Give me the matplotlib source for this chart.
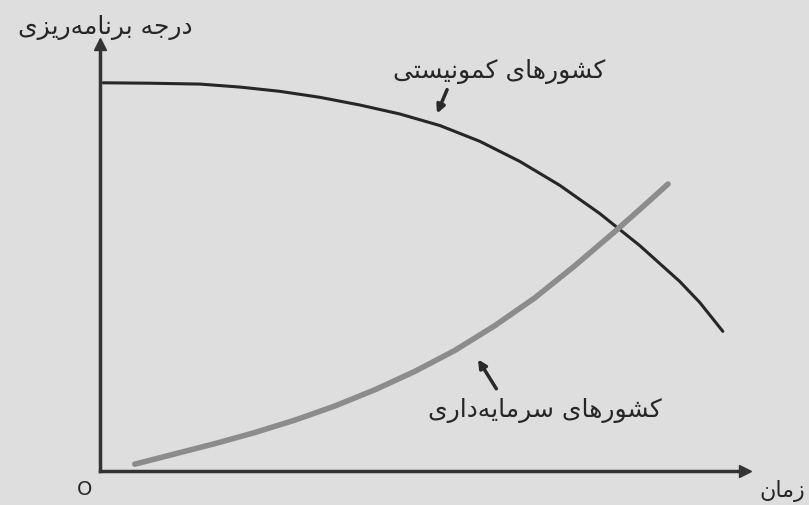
import matplotlib.pyplot as plt

# Persian letters -> presentation forms (isolated, final, initial, medial)
FORMS = {
    'ا': ('\uFE8D', '\uFE8E'),
    'د': ('\uFEA9', '\uFEAA'),
    'ر': ('\uFEAD', '\uFEAE'),
    'ز': ('\uFEAF', '\uFEB0'),
    'و': ('\uFEED', '\uFEEE'),
    'ب': ('\uFE8F', '\uFE90', '\uFE91', '\uFE92'),
    'ت': ('\uFE95', '\uFE96', '\uFE97', '\uFE98'),
    'ج': ('\uFE9D', '\uFE9E', '\uFE9F', '\uFEA0'),
    'س': ('\uFEB1', '\uFEB2', '\uFEB3', '\uFEB4'),
    'ش': ('\uFEB5', '\uFEB6', '\uFEB7', '\uFEB8'),
    'م': ('\uFEE1', '\uFEE2', '\uFEE3', '\uFEE4'),
    'ن': ('\uFEE5', '\uFEE6', '\uFEE7', '\uFEE8'),
    'ه': ('\uFEE9', '\uFEEA', '\uFEEB', '\uFEEC'),
    'ک': ('\uFB8E', '\uFB8F', '\uFB90', '\uFB91'),
    'ی': ('\uFBFC', '\uFBFD', '\uFBFE', '\uFBFF'),
}


def farsi(s):
    # shape letters and put them in visual (right-to-left) order
    out = []
    for i, ch in enumerate(s):
        f = FORMS.get(ch)
        if f is None:
            if ch != '\u200c':
                out.append(ch)
            continue
        prev = s[i - 1] if i > 0 else ''
        nxt = s[i + 1] if i + 1 < len(s) else ''
        join_prev = len(FORMS.get(prev, ())) == 4
        join_next = len(f) == 4 and nxt in FORMS
        if join_prev and join_next:
            out.append(f[3])
        elif join_prev:
            out.append(f[1])
        elif join_next:
            out.append(f[2])
        else:
            out.append(f[0])
    return ''.join(reversed(out))


# 1. data (time vs degree of planning, arbitrary units)
y_title = 'درجه برنامه\u200cریزی'
x_title = 'زمان'
label_communist = 'کشورهای کمونیستی'
label_capitalist = 'کشورهای سرمایه\u200cداری'

t_communist = [0.05, 0.78, 1.55, 2.17, 2.79, 3.41, 4.03, 4.65, 5.27, 5.89, 6.51,
               7.13, 7.75, 8.37, 8.99, 9.3, 9.66]
communist = [9.09, 9.08, 9.06, 8.99, 8.89, 8.75, 8.57, 8.36, 8.09, 7.72, 7.25,
             6.69, 6.03, 5.28, 4.44, 3.95, 3.27]

t_capitalist = [0.54, 1.16, 1.78, 2.4, 3.02, 3.64, 4.26, 4.88, 5.5, 6.12, 6.74,
                7.36, 7.98, 8.45, 8.81]
capitalist = [0.16, 0.4, 0.64, 0.9, 1.19, 1.52, 1.9, 2.33, 2.82, 3.4, 4.05,
              4.8, 5.6, 6.23, 6.72]

plt.rcParams['font.family'] = ['DejaVu Sans']

bg = '#dedede'
fig = plt.figure(figsize=(8.09, 5.06), dpi=100, facecolor=bg)
ax = fig.add_axes([0.1236, 0.0672, 0.797, 0.844])
ax.set_facecolor(bg)
ax.set_xlim(0, 10)
ax.set_ylim(0, 10)

# 2. curves
ax.plot(t_communist, communist, color='#262626', lw=2.2,
        solid_capstyle='round', solid_joinstyle='round')
ax.plot(t_capitalist, capitalist, color='#8c8c8c', lw=4,
        solid_capstyle='round', solid_joinstyle='round')

# 3. axes as arrows
for s in ['top', 'right']:
    ax.spines[s].set_visible(False)
for s in ['left', 'bottom']:
    ax.spines[s].set_color('#333333')
    ax.spines[s].set_linewidth(2.5)
ax.set_xticks([])
ax.set_yticks([])
ax.plot(1, 0, '>', color='#333333', ms=8, transform=ax.transAxes, clip_on=False)
ax.plot(0, 1, '^', color='#333333', ms=8, transform=ax.transAxes, clip_on=False)

# 4. labels and pointers
arrow = dict(arrowstyle='-|>', color='#2a2a2a', lw=2.5, mutation_scale=12)
ax.annotate('', xy=(5.21, 8.31), xytext=(5.4, 8.99), arrowprops=arrow)
ax.annotate('', xy=(5.84, 2.67), xytext=(6.17, 1.87), arrowprops=arrow)
ax.text(6.19, 9.37, farsi(label_communist), fontsize=18, ha='center', va='center', color='#262626')
ax.text(6.9, 1.45, farsi(label_capitalist), fontsize=18, ha='center', va='center', color='#262626')

fig.text(0.13, 0.945, farsi(y_title), fontsize=18, ha='center', va='center', color='#262626')
fig.text(0.967, 0.03, farsi(x_title), fontsize=16, ha='center', va='center', color='#262626')
fig.text(0.105, 0.032, 'O', fontsize=14, ha='center', va='center', color='#262626')

plt.savefig('out.png', dpi=100, facecolor=bg)
